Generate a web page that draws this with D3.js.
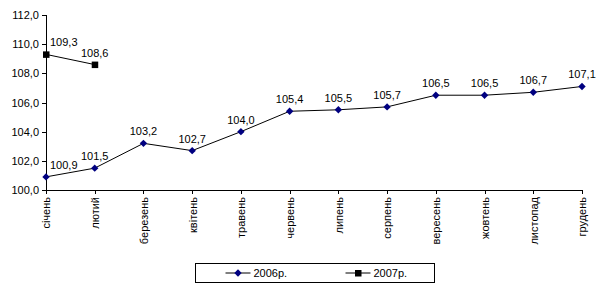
<!DOCTYPE html>
<html>
<head>
<meta charset="utf-8">
<script src="https://cdn.jsdelivr.net/npm/d3@7"></script>
<style>
  body { margin: 0; background: #fff; }
  text { font-family: "Liberation Sans", Arial, sans-serif; font-size: 11px; fill: #000; }
</style>
</head>
<body>
<div id="chart"></div>
<script>
// months along the x axis
var months = ["січень", "лютий", "березень", "квітень", "травень", "червень",
              "липень", "серпень", "вересень", "жовтень", "листопад", "грудень"];

// series values
var values2006 = [100.9, 101.5, 103.2, 102.7, 104.0, 105.4, 105.5, 105.7, 106.5, 106.5, 106.7, 107.1];
var values2007 = [109.3, 108.6];

var yTicks = [100, 102, 104, 106, 108, 110, 112];
var seriesNames = ["2006р.", "2007р."];

var width = 600, height = 288;
var margin = {top: 15, right: 18, bottom: 98, left: 46};
var innerW = width - margin.left - margin.right,
    innerH = height - margin.top - margin.bottom;

var fmt = function(v) { return d3.format(".1f")(v).replace(".", ","); };

var svg = d3.select("#chart").append("svg")
    .attr("width", width)
    .attr("height", height);

var g = svg.append("g")
    .attr("transform", "translate(" + margin.left + "," + margin.top + ")");

// set the ranges
var xScale = d3.scalePoint().domain(months).range([0, innerW]);
var yScale = d3.scaleLinear().domain([100, 112]).range([innerH, 0]);

// y axis
var yAxis = g.append("g")
    .call(d3.axisLeft(yScale).tickValues(yTicks).tickFormat(fmt).tickSize(4).tickPadding(3));
yAxis.select(".domain").attr("stroke", "#000").attr("shape-rendering", "crispEdges");
yAxis.selectAll(".tick line").attr("shape-rendering", "crispEdges");
yAxis.selectAll("text").style("font-size", "11px").style("font-family", "Liberation Sans, Arial, sans-serif");

// x axis
var xAxis = g.append("g")
    .attr("transform", "translate(0," + innerH + ")")
    .call(d3.axisBottom(xScale).tickSize(4).tickSizeOuter(0).tickPadding(4));
xAxis.select(".domain").attr("shape-rendering", "crispEdges");
xAxis.selectAll(".tick line").attr("shape-rendering", "crispEdges");
xAxis.selectAll("text")
    .style("font-size", "11px").style("font-family", "Liberation Sans, Arial, sans-serif")
    .attr("transform", "rotate(-90)")
    .attr("text-anchor", "end")
    .attr("x", -7)
    .attr("y", 0)
    .attr("dy", "0.35em");

var line = d3.line()
    .x(function(d, i) { return xScale(months[i]); })
    .y(function(d) { return yScale(d); });

// diamond marker, 7px across
var diamondPath = "M0,-3.7L3.7,0L0,3.7L-3.7,0Z";

// 2006 series
g.append("path")
    .datum(values2006)
    .attr("fill", "none")
    .attr("stroke", "#000")
    .attr("stroke-width", 1)
    .attr("d", line);

g.selectAll(".m2006")
    .data(values2006)
  .enter().append("path")
    .attr("class", "m2006")
    .attr("d", diamondPath)
    .attr("fill", "#000080")
    .attr("transform", function(d, i) {
      return "translate(" + xScale(months[i]) + "," + yScale(d) + ")";
    });

// 2007 series
g.append("path")
    .datum(values2007)
    .attr("fill", "none")
    .attr("stroke", "#000")
    .attr("stroke-width", 1)
    .attr("d", line);

g.selectAll(".m2007")
    .data(values2007)
  .enter().append("rect")
    .attr("class", "m2007")
    .attr("x", function(d, i) { return xScale(months[i]) - 3; })
    .attr("y", function(d) { return yScale(d) - 3; })
    .attr("width", 6.5)
    .attr("height", 6.5)
    .attr("fill", "#000");

// data labels
function addLabels(data, cls) {
  g.selectAll("." + cls)
      .data(data)
    .enter().append("text")
      .attr("class", cls)
      .attr("x", function(d, i) { return xScale(months[i]) + (i === 0 ? 4 : 0); })
      .attr("y", function(d) { return yScale(d) - 8; })
      .attr("text-anchor", function(d, i) { return i === 0 ? "start" : "middle"; })
      .text(fmt);
}
addLabels(values2006, "l2006");
addLabels(values2007, "l2007");

// legend
var legend = svg.append("g").attr("transform", "translate(195.5,263.5)");
legend.append("rect")
    .attr("width", 239)
    .attr("height", 19)
    .attr("fill", "#fff")
    .attr("stroke", "#000");

var items = legend.selectAll(".item")
    .data(seriesNames)
  .enter().append("g")
    .attr("transform", function(d, i) { return "translate(" + (30 + i * 120) + ",0)"; });

items.append("line")
    .attr("x1", 0).attr("x2", 25)
    .attr("y1", 9.5).attr("y2", 9.5)
    .attr("stroke", "#000");

items.each(function(d, i) {
  var it = d3.select(this);
  if (i === 0) {
    it.append("path")
      .attr("d", diamondPath)
      .attr("fill", "#000080")
      .attr("transform", "translate(12.5,9.5)");
  } else {
    it.append("rect")
      .attr("x", 9.5).attr("y", 6.5)
      .attr("width", 6.5).attr("height", 6.5)
      .attr("fill", "#000");
  }
});

items.append("text")
    .attr("x", 28)
    .attr("y", 13.5)
    .text(function(d) { return d; });
</script>
</body>
</html>
